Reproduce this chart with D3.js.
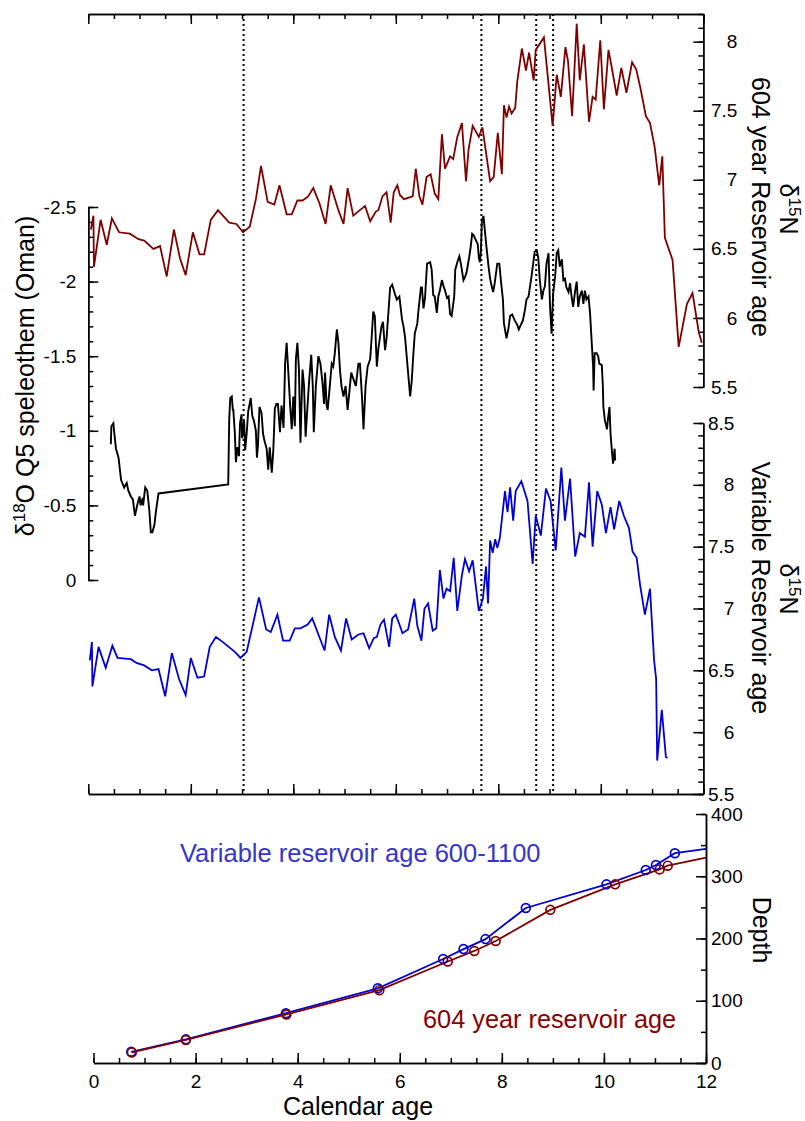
<!DOCTYPE html>
<html>
<head>
<meta charset="utf-8">
<script src="https://cdn.jsdelivr.net/npm/d3@7"></script>
<style>
body { margin: 0; background: #fff; }
svg { font-family: "Liberation Sans", Arial, sans-serif; }
</style>
</head>
<body>
<div id="chart"></div>
<script>
var width = 805;
var height = 1121;

// d15N against the 604 year reservoir age model [calendar age, d15N]
var n15Fixed = [
  [0.05,6.64],[0.10,6.74],[0.11,6.37],[0.24,6.71],[0.36,6.53],[0.46,6.72],[0.60,6.62],[0.81,6.61],
  [0.98,6.57],[1.09,6.56],[1.27,6.50],[1.40,6.52],[1.53,6.30],[1.67,6.64],[1.79,6.43],[1.90,6.31],
  [2.04,6.62],[2.17,6.46],[2.26,6.46],[2.39,6.71],[2.53,6.78],[2.75,6.69],[2.89,6.68],[3.02,6.62],
  [3.15,6.66],[3.27,6.86],[3.37,7.10],[3.50,6.84],[3.63,6.82],[3.73,6.96],[3.87,6.75],[3.97,6.75],
  [4.08,6.85],[4.18,6.85],[4.29,6.88],[4.39,6.94],[4.51,6.83],[4.63,6.68],[4.73,6.96],[4.88,6.78],
  [4.98,6.68],[5.06,6.94],[5.17,6.74],[5.30,6.78],[5.40,6.81],[5.50,6.70],[5.61,6.77],[5.66,6.78],
  [5.74,6.88],[5.82,6.91],[5.90,6.69],[5.96,6.91],[6.03,6.96],[6.08,6.89],[6.16,6.86],[6.33,6.88],
  [6.39,7.08],[6.46,6.88],[6.52,6.82],[6.60,7.02],[6.68,7.04],[6.76,6.90],[6.83,6.86],[6.90,7.33],
  [6.96,7.08],[7.06,7.17],[7.12,7.15],[7.20,7.31],[7.29,7.41],[7.37,6.99],[7.42,7.22],[7.50,7.39],
  [7.62,7.31],[7.69,7.38],[7.84,6.99],[7.91,7.02],[7.99,7.34],[8.07,7.04],[8.11,7.54],[8.16,7.45],
  [8.21,7.53],[8.26,7.48],[8.33,7.52],[8.37,7.71],[8.46,7.95],[8.54,7.79],[8.60,7.92],[8.69,7.72],
  [8.73,7.94],[8.89,8.03],[9.06,7.39],[9.14,7.76],[9.22,7.60],[9.31,7.96],[9.36,7.86],[9.44,7.46],
  [9.53,8.13],[9.59,7.72],[9.67,7.98],[9.77,7.42],[9.84,7.60],[9.90,7.58],[9.99,8.01],[10.06,7.51],
  [10.15,7.94],[10.22,7.80],[10.31,7.61],[10.40,7.81],[10.50,7.63],[10.61,7.85],[10.69,7.80],[10.77,7.67],
  [10.88,7.46],[10.96,7.41],[11.05,7.24],[11.14,6.96],[11.20,7.17],[11.25,6.58],[11.40,6.42],[11.52,5.79],
  [11.68,6.10],[11.79,6.18],[11.91,5.90],[11.97,5.82]
];

// d15N against the variable reservoir age model
var n15Variable = [
  [0.03,6.58],[0.07,6.73],[0.08,6.37],[0.20,6.69],[0.34,6.52],[0.47,6.70],[0.57,6.60],[0.83,6.59],
  [0.94,6.56],[1.09,6.54],[1.24,6.50],[1.37,6.51],[1.50,6.29],[1.63,6.64],[1.77,6.43],[1.90,6.30],
  [2.00,6.60],[2.13,6.44],[2.26,6.45],[2.37,6.69],[2.49,6.77],[2.62,6.73],[2.74,6.69],[2.86,6.65],
  [2.97,6.60],[3.09,6.65],[3.21,6.87],[3.33,7.09],[3.47,6.83],[3.56,6.81],[3.69,6.95],[3.80,6.74],
  [3.93,6.74],[4.03,6.84],[4.14,6.84],[4.28,6.87],[4.37,6.92],[4.49,6.79],[4.61,6.66],[4.70,6.95],
  [4.81,6.77],[4.93,6.66],[5.03,6.92],[5.14,6.75],[5.27,6.79],[5.37,6.80],[5.48,6.68],[5.57,6.76],
  [5.63,6.77],[5.70,6.87],[5.77,6.91],[5.87,6.69],[5.93,6.92],[6.00,6.95],[6.08,6.86],[6.13,6.80],
  [6.24,6.83],[6.36,7.08],[6.42,6.86],[6.50,6.74],[6.56,7.00],[6.63,7.04],[6.72,6.82],[6.79,6.84],
  [6.86,7.31],[6.93,7.08],[6.99,7.16],[7.06,7.14],[7.13,7.41],[7.20,6.98],[7.29,7.27],[7.35,7.40],
  [7.43,7.30],[7.50,7.39],[7.62,6.98],[7.70,7.08],[7.76,7.34],[7.80,7.04],[7.84,7.55],[7.89,7.45],
  [7.94,7.56],[7.98,7.49],[8.03,7.57],[8.13,7.95],[8.18,7.78],[8.23,7.98],[8.29,7.71],[8.34,7.95],
  [8.45,8.03],[8.57,7.87],[8.67,7.36],[8.73,7.75],[8.83,7.59],[8.93,7.97],[9.02,7.87],[9.12,7.47],
  [9.23,8.14],[9.30,7.71],[9.40,8.05],[9.50,7.42],[9.59,7.61],[9.69,7.58],[9.77,8.02],[9.84,7.50],
  [9.93,7.95],[10.02,7.84],[10.10,7.61],[10.19,7.82],[10.26,7.64],[10.36,7.87],[10.45,7.75],[10.55,7.65],
  [10.62,7.46],[10.70,7.41],[10.77,7.18],[10.86,6.95],[10.96,7.16],[11.04,6.58],[11.08,6.43],[11.10,5.77],
  [11.19,6.18],[11.27,5.80],[11.30,5.79]
];

// d18O Q5 speleothem (Oman)
var d18O = [
  [0.44,-0.91],[0.45,-1.03],[0.49,-1.05],[0.50,-1.01],[0.54,-0.88],[0.59,-0.82],[0.64,-0.67],[0.70,-0.62],
  [0.75,-0.65],[0.78,-0.60],[0.83,-0.56],[0.87,-0.54],[0.91,-0.43],[0.96,-0.51],[1.00,-0.56],[1.02,-0.50],
  [1.06,-0.55],[1.07,-0.50],[1.11,-0.62],[1.15,-0.60],[1.19,-0.47],[1.22,-0.32],[1.25,-0.32],[1.29,-0.37],
  [1.32,-0.46],[1.37,-0.58],[2.73,-0.64],[2.75,-1.08],[2.77,-1.22],[2.80,-1.23],[2.82,-1.14],[2.83,-1.14],
  [2.86,-0.98],[2.88,-0.79],[2.91,-0.89],[2.94,-0.83],[2.96,-1.05],[2.99,-1.11],[3.00,-0.95],[3.04,-1.07],
  [3.06,-0.87],[3.09,-0.98],[3.12,-1.13],[3.17,-1.22],[3.20,-1.10],[3.23,-1.07],[3.27,-1.00],[3.29,-0.82],
  [3.31,-0.90],[3.34,-1.16],[3.38,-1.12],[3.41,-0.98],[3.44,-0.93],[3.48,-0.88],[3.51,-0.74],[3.54,-0.89],
  [3.58,-0.72],[3.61,-0.87],[3.64,-1.15],[3.67,-1.18],[3.70,-1.18],[3.74,-0.99],[3.77,-1.17],[3.81,-1.02],
  [3.84,-1.45],[3.87,-1.59],[3.90,-1.41],[3.94,-1.16],[3.97,-1.01],[4.00,-1.23],[4.03,-1.03],[4.05,-1.48],
  [4.08,-1.59],[4.11,-1.41],[4.14,-0.92],[4.18,-1.41],[4.21,-1.30],[4.24,-0.96],[4.28,-1.18],[4.31,-1.34],
  [4.35,-1.51],[4.38,-1.30],[4.40,-0.99],[4.44,-1.30],[4.49,-1.50],[4.53,-1.45],[4.57,-1.32],[4.60,-1.18],
  [4.62,-1.39],[4.65,-1.17],[4.67,-1.14],[4.72,-1.33],[4.75,-1.45],[4.78,-1.43],[4.81,-1.52],[4.85,-1.68],
  [4.88,-1.59],[4.91,-1.41],[4.94,-1.30],[4.98,-1.23],[5.02,-1.30],[5.06,-1.14],[5.13,-1.39],[5.18,-1.34],
  [5.22,-1.30],[5.27,-1.45],[5.30,-1.45],[5.34,-1.23],[5.37,-1.01],[5.41,-1.30],[5.45,-1.43],[5.50,-1.48],
  [5.53,-1.63],[5.56,-1.80],[5.59,-1.77],[5.63,-1.43],[5.66,-1.55],[5.72,-1.70],[5.75,-1.73],[5.79,-1.54],
  [5.82,-1.62],[5.89,-1.96],[5.93,-1.98],[5.98,-1.92],[6.02,-1.88],[6.07,-1.90],[6.12,-1.75],[6.15,-1.70],
  [6.18,-1.63],[6.21,-1.51],[6.24,-1.39],[6.28,-1.23],[6.31,-1.33],[6.34,-1.50],[6.37,-1.65],[6.42,-1.72],
  [6.44,-1.80],[6.49,-1.96],[6.51,-1.96],[6.54,-1.82],[6.57,-1.89],[6.61,-2.12],[6.67,-2.13],[6.70,-2.08],
  [6.73,-1.91],[6.76,-1.90],[6.80,-1.79],[6.83,-1.90],[6.86,-1.94],[6.90,-2.01],[6.93,-1.97],[6.96,-1.94],
  [7.00,-1.89],[7.03,-1.90],[7.06,-1.78],[7.09,-1.77],[7.14,-1.90],[7.16,-2.08],[7.20,-2.13],[7.24,-2.17],
  [7.27,-2.12],[7.32,-2.01],[7.35,-2.03],[7.38,-2.06],[7.43,-2.16],[7.46,-2.23],[7.49,-2.32],[7.52,-2.31],
  [7.56,-2.28],[7.60,-2.25],[7.62,-2.16],[7.64,-2.13],[7.66,-2.20],[7.68,-2.41],[7.71,-2.44],[7.73,-2.37],
  [7.75,-2.30],[7.77,-2.23],[7.81,-2.10],[7.84,-2.02],[7.87,-1.97],[7.90,-1.93],[7.93,-1.99],[7.98,-2.12],
  [8.02,-2.12],[8.05,-2.01],[8.09,-1.88],[8.11,-1.72],[8.14,-1.66],[8.16,-1.62],[8.20,-1.69],[8.23,-1.77],
  [8.27,-1.78],[8.32,-1.74],[8.37,-1.71],[8.40,-1.68],[8.44,-1.71],[8.48,-1.74],[8.52,-1.81],[8.55,-1.88],
  [8.59,-1.90],[8.62,-1.97],[8.65,-2.04],[8.68,-2.12],[8.71,-2.20],[8.75,-2.21],[8.78,-2.16],[8.81,-2.01],
  [8.85,-1.88],[8.88,-1.94],[8.91,-1.97],[8.94,-2.12],[8.98,-2.19],[9.01,-1.83],[9.04,-1.65],[9.07,-1.92],
  [9.11,-2.04],[9.14,-2.19],[9.17,-2.21],[9.20,-2.10],[9.24,-2.15],[9.27,-2.01],[9.30,-2.02],[9.33,-1.96],
  [9.37,-1.93],[9.40,-1.99],[9.43,-1.90],[9.46,-1.83],[9.50,-1.94],[9.53,-2.00],[9.56,-1.83],[9.59,-1.90],
  [9.63,-1.94],[9.66,-1.85],[9.69,-1.94],[9.72,-1.88],[9.76,-1.90],[9.79,-1.79],[9.82,-1.61],[9.85,-1.43],
  [9.86,-1.27],[9.88,-1.52],[9.92,-1.52],[9.95,-1.50],[9.97,-1.45],[10.02,-1.44],[10.04,-1.30],[10.05,-1.16],
  [10.08,-1.07],[10.12,-1.01],[10.14,-1.08],[10.17,-1.16],[10.19,-0.98],[10.22,-0.85],[10.24,-0.78],[10.27,-0.88],
  [10.28,-0.80]
];

// marked events (calendar age)
var eventAges = [3.03, 7.67, 8.74, 9.07];

// age-depth models
var depthVariable = [[0.74,18],[1.81,38],[3.77,80],[5.57,120],[6.85,167],[7.25,183],[7.68,199],[8.47,249],
  [10.05,287],[10.82,310],[11.02,318],[11.39,337]];
var depthVariableEnd = [12, 344];
var depthFixed = [[0.75,17],[1.81,37],[3.78,78],[5.60,117],[6.94,163],[7.46,180],[7.88,196],[8.95,246],
  [10.22,287],[11.09,311],[11.25,317]];
var depthFixedEnd = [12, 330];

var ageTicks = [0, 2, 4, 6, 8, 10, 12];
var n15FixedTicks = [5.5, 6, 6.5, 7, 7.5, 8];
var n15VarTicks = [5.5, 6, 6.5, 7, 7.5, 8, 8.5];
var d18OTicks = [0, -0.5, -1, -1.5, -2, -2.5];
var depthTicks = [0, 100, 200, 300, 400];

var red = "#800000";
var blue = "#0000d8";

var svg = d3.select("#chart").append("svg")
    .attr("width", width)
    .attr("height", height);

var x = d3.scaleLinear().domain([0, 12]).range([88.3, 703.3]);
var xb = d3.scaleLinear().domain([0, 12]).range([93.5, 706]);
var yFixed = d3.scaleLinear().domain([5.5, 8.2]).range([387, 14]);
var yVar = d3.scaleLinear().domain([5.5, 8.5]).range([794, 423]);
var yO = d3.scaleLinear().domain([0, -2.5]).range([580, 207]);
var yDepth = d3.scaleLinear().domain([0, 400]).range([1063, 814]);

function range(a, b, step) {
  return d3.range(Math.round(a / step), Math.round(b / step) + 1).map(function(i) { return +(i * step).toFixed(3); });
}

// minor + major ticks, pointing inward
function drawAxis(axisFn, scale, tr, majors, minors, labels, pad) {
  var g = svg.append("g").attr("transform", tr);
  g.append("g").call(axisFn(scale).tickValues(minors).tickSize(-5).tickSizeOuter(0).tickFormat(""));
  var m = g.append("g").call(axisFn(scale).tickValues(majors).tickSize(-10).tickSizeOuter(0)
      .tickPadding(pad || 0)
      .tickFormat(labels ? function(d) { return String(d); } : ""));
  g.selectAll("path, line").attr("stroke", "#000").attr("stroke-width", 1.5);
  g.selectAll("text").attr("font-family", "Liberation Sans, Arial, sans-serif")
      .attr("font-size", 19).attr("fill", "#000");
  return m;
}

drawAxis(d3.axisTop, x, "translate(0,14)", ageTicks, range(0, 12, 0.5), false);
drawAxis(d3.axisBottom, x, "translate(0,794)", ageTicks, range(0, 12, 0.5), false);
drawAxis(d3.axisLeft, yO, "translate(88.3,0)", d18OTicks, range(-2.5, 0, 0.1), true, 12);

var aF = drawAxis(d3.axisRight, yFixed, "translate(703.3,0)", n15FixedTicks, range(5.5, 8.2, 0.1), true);
aF.selectAll(".tick text").attr("text-anchor", "end").attr("x", 34);
var aV = drawAxis(d3.axisRight, yVar, "translate(703.3,0)", n15VarTicks, range(5.5, 8.5, 0.1), true);
aV.selectAll(".tick text").attr("text-anchor", "end").attr("x", 31);

drawAxis(d3.axisBottom, xb, "translate(0,1063)", ageTicks, range(0, 12, 0.5), true, 12);
drawAxis(d3.axisRight, yDepth, "translate(706,0)", depthTicks, range(0, 400, 50), true, 5);

// event lines
svg.append("g").selectAll("line")
  .data(eventAges)
  .enter().append("line")
    .attr("x1", function(d) { return x(d); })
    .attr("x2", function(d) { return x(d); })
    .attr("y1", 14)
    .attr("y2", 794)
    .attr("stroke", "#000")
    .attr("stroke-width", 2)
    .attr("stroke-dasharray", "2,3");

var lineF = d3.line().x(function(d) { return x(d[0]); }).y(function(d) { return yFixed(d[1]); });
var lineV = d3.line().x(function(d) { return x(d[0]); }).y(function(d) { return yVar(d[1]); });
var lineO = d3.line().x(function(d) { return x(d[0]); }).y(function(d) { return yO(d[1]); });
var lineD = d3.line().x(function(d) { return xb(d[0]); }).y(function(d) { return yDepth(d[1]); });

svg.append("path").attr("d", lineF(n15Fixed)).attr("fill", "none").attr("stroke", red).attr("stroke-width", 1.8);
svg.append("path").attr("d", lineO(d18O)).attr("fill", "none").attr("stroke", "#000").attr("stroke-width", 1.9);
svg.append("path").attr("d", lineV(n15Variable)).attr("fill", "none").attr("stroke", blue).attr("stroke-width", 1.8);

// bottom panel
svg.append("path").attr("d", lineD(depthVariable.concat([depthVariableEnd])))
  .attr("fill", "none").attr("stroke", blue).attr("stroke-width", 1.8);
svg.append("path").attr("d", lineD(depthFixed.concat([depthFixedEnd])))
  .attr("fill", "none").attr("stroke", red).attr("stroke-width", 1.8);

svg.append("g").selectAll("circle")
  .data(depthVariable)
  .enter().append("circle")
    .attr("cx", function(d) { return xb(d[0]); })
    .attr("cy", function(d) { return yDepth(d[1]); })
    .attr("r", 4.4)
    .attr("fill", "none")
    .attr("stroke", blue)
    .attr("stroke-width", 1.7);
svg.append("g").selectAll("circle")
  .data(depthFixed)
  .enter().append("circle")
    .attr("cx", function(d) { return xb(d[0]); })
    .attr("cy", function(d) { return yDepth(d[1]); })
    .attr("r", 4.4)
    .attr("fill", "none")
    .attr("stroke", red)
    .attr("stroke-width", 1.7);

// titles
var t = svg.append("text").attr("font-size", 25).attr("text-anchor", "middle")
    .attr("transform", "translate(34,376) rotate(-90)");
t.append("tspan").text("δ");
t.append("tspan").attr("font-size", 17).attr("dy", -9).text("18");
t.append("tspan").attr("dy", 9).text("O Q5 speleothem (Oman)");

function n15Title(xp, yp) {
  var tt = svg.append("text").attr("font-size", 25).attr("text-anchor", "middle")
      .attr("transform", "translate(" + xp + "," + yp + ") rotate(90)");
  tt.append("tspan").text("δ");
  tt.append("tspan").attr("font-size", 17).attr("dy", -9).text("15");
  tt.append("tspan").attr("dy", 9).text("N");
}
n15Title(780, 209);
n15Title(780, 589);

svg.append("text").attr("font-size", 25).attr("text-anchor", "middle")
  .attr("transform", "translate(752,207) rotate(90)").text("604 year Reservoir age");
svg.append("text").attr("font-size", 25).attr("text-anchor", "middle")
  .attr("transform", "translate(752,588) rotate(90)").text("Variable Reservoir age");
svg.append("text").attr("font-size", 25).attr("text-anchor", "middle")
  .attr("transform", "translate(753,930) rotate(90)").text("Depth");
svg.append("text").attr("font-size", 25).attr("text-anchor", "middle")
  .attr("x", 358).attr("y", 1115).text("Calendar age");

svg.append("text").attr("font-size", 25.5).attr("fill", "#3535cc")
  .attr("x", 180).attr("y", 862).text("Variable reservoir age 600-1100");
svg.append("text").attr("font-size", 25.3).attr("fill", "#8b0000")
  .attr("x", 423).attr("y", 1028).text("604 year reservoir age");
</script>
</body>
</html>
